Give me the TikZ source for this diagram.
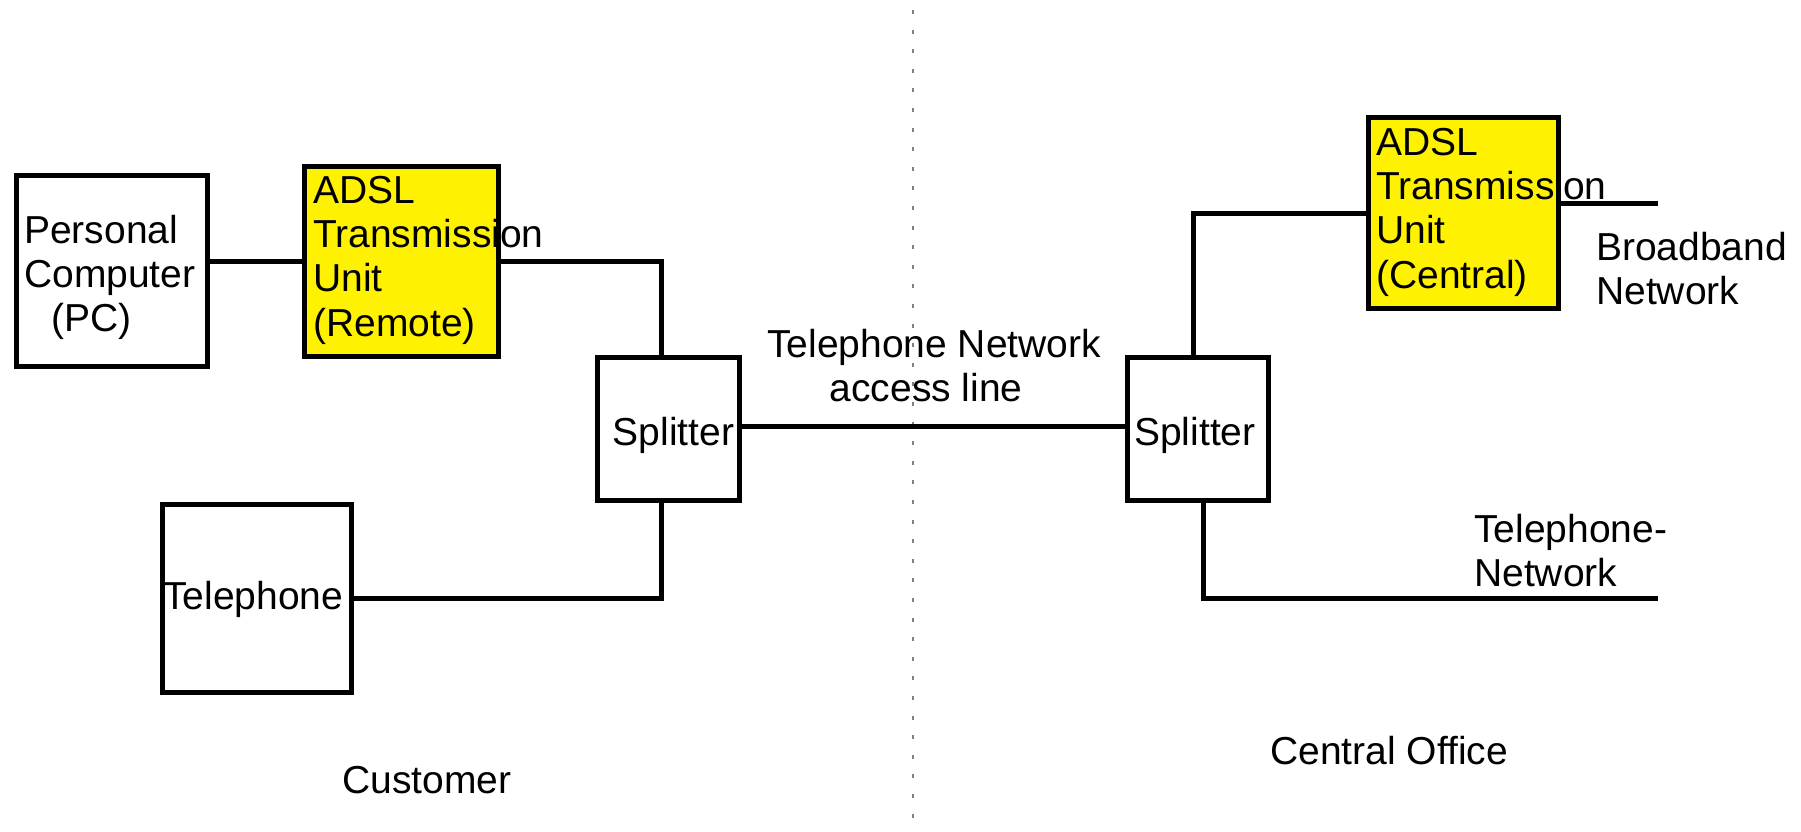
\documentclass[tikz,border=0pt]{standalone}
\usepackage{fontspec}
\setmainfont{Liberation Sans}
\newcommand{\labelfont}{\fontsize{39}{44.3}\selectfont}
\begin{document}
\begin{tikzpicture}[x=1pt,y=-1pt,
  box/.style={draw=black, line width=5pt, fill=white, inner sep=0pt, outer sep=0pt},
  atu/.style={box, fill=yellow},
  wire/.style={draw=black, line width=5pt},
  divider/.style={draw={rgb,255:red,128;green,128;blue,128}, line width=2pt,
                  dash pattern=on 4pt off 15.6pt, dash phase=9.6pt},
  txt/.style={inner sep=0pt, font=\labelfont, anchor=base west},
  mtxt/.style={inner sep=0pt, font=\labelfont, align=left, anchor=north west}]

% page
\fill[white] (0,0) rectangle (1801,832);
\useasboundingbox (0,0) rectangle (1801,832);

% customer / central office divider
\coordinate (divTop) at (912.5,0);
\coordinate (divBot) at (912.5,832);
\draw[divider] (divTop) -- (divBot);

% tap points of the wiring
\coordinate (tapL)  at (661.5,0);
\coordinate (tapR)  at (1193,0);
\coordinate (tapR2) at (1203.5,0);
\coordinate (acc)   at (0,426);
\coordinate (bbEnd) at (1658,203);
\coordinate (telEnd) at (1658,598);

% equipment boxes
\node[box, minimum width=191pt, minimum height=191pt] (pc) at (112,270.5) {};
\node[atu, minimum width=194.3pt, minimum height=190pt] (atur) at (401.35,261) {};
\node[box, minimum width=141.7pt, minimum height=143pt] (splL) at (668.35,429) {};
\node[box, minimum width=189pt, minimum height=188pt] (tel) at (256.5,598) {};
\node[box, minimum width=141.5pt, minimum height=143pt] (splR) at (1197.75,429) {};
\node[atu, minimum width=190pt, minimum height=190pt] (atuc) at (1463.5,213) {};

% wiring
\draw[wire] (atur.west) -- (atur.west -| pc.east);
\draw[wire] (atur.east) -| (splL.north -| tapL);
\draw[wire] (tel.east) -| (splL.south -| tapL);
\draw[wire] (splL.east |- acc) -- (splR.west |- acc);
\draw[wire] (splR.north -| tapR) |- (atuc.west);
\draw[wire] (atuc.east |- bbEnd) -- (bbEnd);
\draw[wire] (splR.south -| tapR2) |- (telEnd);

% labels
\node[mtxt] (pcText) at (24,212) {\strut Personal\\Computer\\\hspace*{27pt}(PC)};
\node[mtxt] (aturText) at (313,172) {\strut ADSL\\Transmission\\Unit\\(Remote)};
\node[mtxt] (atucText) at (1376,124) {\strut ADSL\\Transmission\\Unit\\(Central)};
\node[txt] (splLText) at (612.5,445) {Splitter};
\node[txt] (splRText) at (1134,445) {Splitter};
\node[txt] (telText) at (163,609) {Telephone};
\node[mtxt] (accText) at (767,326) {\strut Telephone Network\\\hspace*{62.5pt}access line};
\node[mtxt] (bbText) at (1596,229) {\strut Broadband\\Network};
\node[mtxt] (tnText) at (1474,511) {\strut Telephone-\\Network};
\node[txt] (custText) at (342,793) {Customer};
\node[txt] (coText) at (1270,764) {Central Office};

% unit outlines over their labels
\draw[black, line width=5pt] (atur.north west) rectangle (atur.south east);
\draw[black, line width=5pt] (atuc.north west) rectangle (atuc.south east);
\end{tikzpicture}
\end{document}
